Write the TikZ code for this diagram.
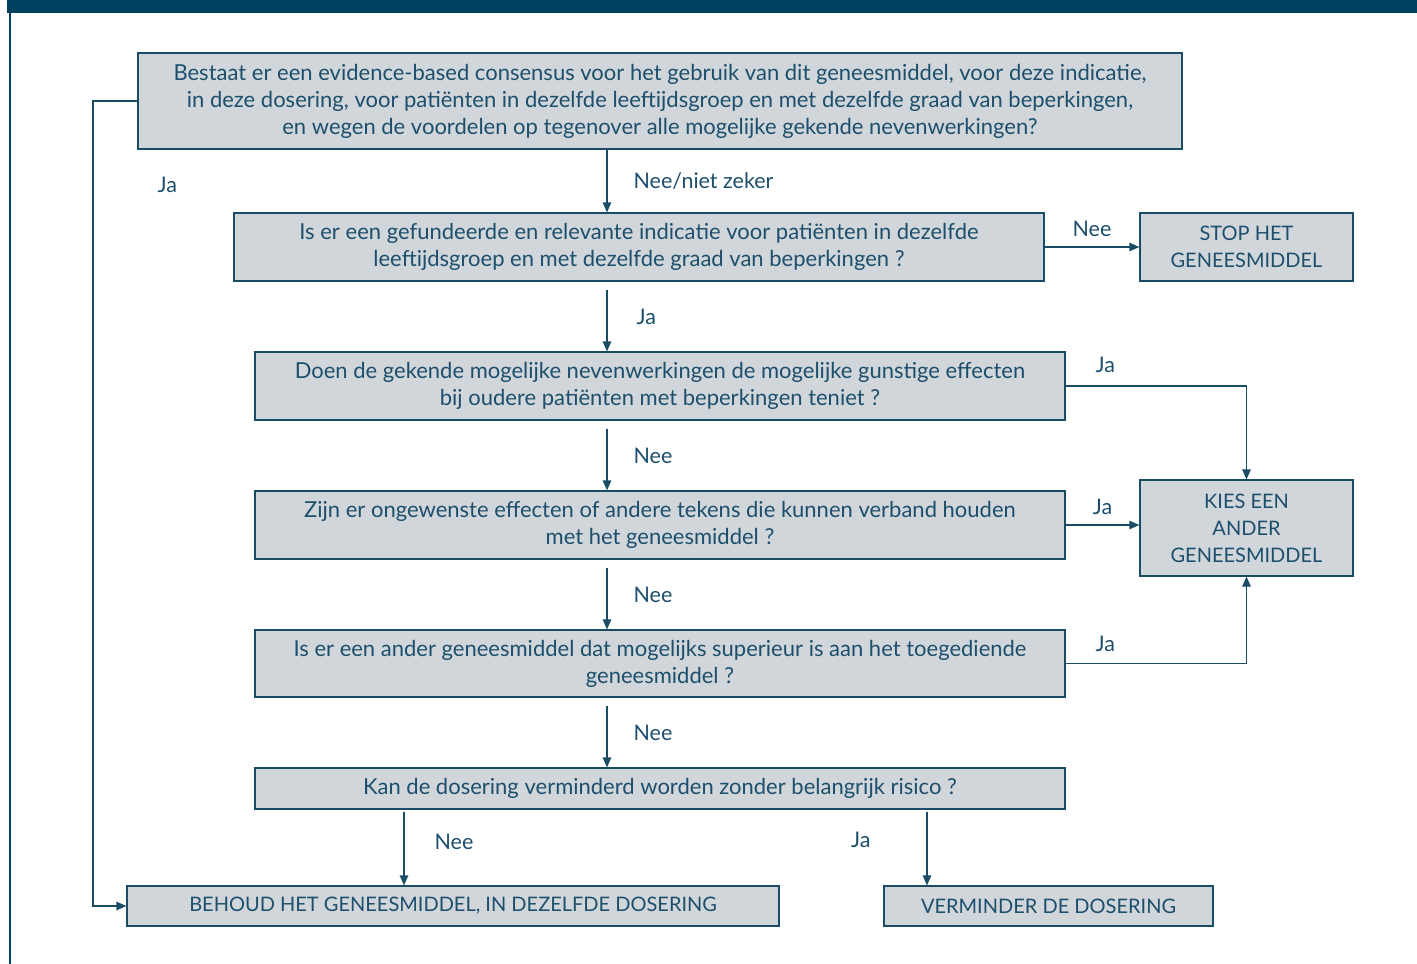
\documentclass[tikz,border=0pt]{standalone}
\usepackage{fontspec}
\setmainfont{Lato}
\usetikzlibrary{arrows.meta, positioning}
\definecolor{mynavy}{HTML}{00415F}
\definecolor{myline}{HTML}{1B4C66}
\definecolor{mygrey}{HTML}{D1D6DB}
\definecolor{mytext}{HTML}{1D4F6C}

\begin{document}
\begin{tikzpicture}[x=1pt, y=-1pt,
  question/.style={rectangle, draw=myline, fill=mygrey, line width=1.2pt, text=mytext, align=center, font=\fontsize{22}{27}\selectfont, inner sep=0pt},
  answer/.style={question, font=\fontsize{20}{27}\selectfont},
  arr/.style={-{Triangle[length=10pt, width=8.5pt]}, draw=myline, line width=1.2pt},
  lbl/.style={text=mytext, font=\fontsize{21.5}{27}\selectfont, inner sep=0pt},
]
\useasboundingbox (0,0) rectangle (1417,964);
% frame
\fill[mynavy] (7,0) rectangle (1417,13);
\draw[mynavy, line width=1.5pt] (10,13) -- (10,964);

\node[question, minimum width=1044, minimum height=96] (q1) at (660,101) {Bestaat er een evidence-based consensus voor het gebruik van dit geneesmiddel, voor deze indicatie,\\in deze dosering, voor patiënten in dezelfde leeftijdsgroep en met dezelfde graad van beperkingen,\\en wegen de voordelen op tegenover alle mogelijke gekende nevenwerkingen?};
\node[question, minimum width=810, minimum height=68] (q2) at (639,247) {Is er een gefundeerde en relevante indicatie voor patiënten in dezelfde\\leeftijdsgroep en met dezelfde graad van beperkingen ?};
\node[answer, minimum width=213, minimum height=68] (stop) at (1246.5,247) {STOP HET\\GENEESMIDDEL};
\node[question, minimum width=810, minimum height=68] (q3) at (660,386) {Doen de gekende mogelijke nevenwerkingen de mogelijke gunstige effecten\\bij oudere patiënten met beperkingen teniet ?};
\node[question, minimum width=810, minimum height=68] (q4) at (660,525) {Zijn er ongewenste effecten of andere tekens die kunnen verband houden\\met het geneesmiddel ?};
\node[answer, minimum width=213, minimum height=96] (kies) at (1246.5,528) {KIES EEN\\ANDER\\GENEESMIDDEL};
\node[question, minimum width=810, minimum height=67] (q5) at (660,663.5) {Is er een ander geneesmiddel dat mogelijks superieur is aan het toegediende\\geneesmiddel ?};
\node[question, minimum width=810, minimum height=41] (q6) at (660,788.5) {Kan de dosering verminderd worden zonder belangrijk risico ?};
\node[answer, minimum width=652, minimum height=40] (keep) at (453,906) {BEHOUD HET GENEESMIDDEL, IN DEZELFDE DOSERING};
\node[answer, minimum width=329, minimum height=40] (lower) at (1048.5,906) {VERMINDER DE DOSERING};

\coordinate (mx) at (607,0);
\coordinate (nx) at (404,0);
\coordinate (jx) at (93,0);
\coordinate (vx) at (927,0);

\draw[arr] (q1.south -| mx) -- node[lbl, right=26pt] {Nee/niet zeker} (q2.north -| mx);
\draw[arr, shorten <=8pt] (q2.south -| mx) -- node[lbl, right=29pt] {Ja} (q3.north -| mx);
\draw[arr, shorten <=8pt] (q3.south -| mx) -- node[lbl, right=26pt] {Nee} (q4.north -| mx);
\draw[arr, shorten <=8pt] (q4.south -| mx) -- node[lbl, right=26pt] {Nee} (q5.north -| mx);
\draw[arr, shorten <=8pt] (q5.south -| mx) -- node[lbl, right=26pt] {Nee} (q6.north -| mx);

\draw[arr] (q2.east) -- node[lbl, above=10pt] {Nee} (stop.west);
\draw[arr] (q3.east) -| node[lbl, pos=0.11, above=13pt] {Ja} (kies.north);
\draw[arr] (q4.east) -- node[lbl, above=10pt] {Ja} (q4.east -| kies.west);
\draw[arr] (q5.east) -| node[lbl, pos=0.11, above=11pt] {Ja} (kies.south);

\draw[arr, shorten <=2pt] (q6.south -| nx) -- node[lbl, right=30pt, yshift=6pt] {Nee} (keep.north -| nx);
\draw[arr, shorten <=2pt] (q6.south -| vx) -- node[lbl, left=56pt, yshift=8pt] {Ja} (lower.north -| vx);
\draw[arr] (q1.west) -- (q1.west -| jx) -- node[lbl, pos=0.104, right=64pt] {Ja} (keep.west -| jx) -- (keep.west);
\end{tikzpicture}
\end{document}
